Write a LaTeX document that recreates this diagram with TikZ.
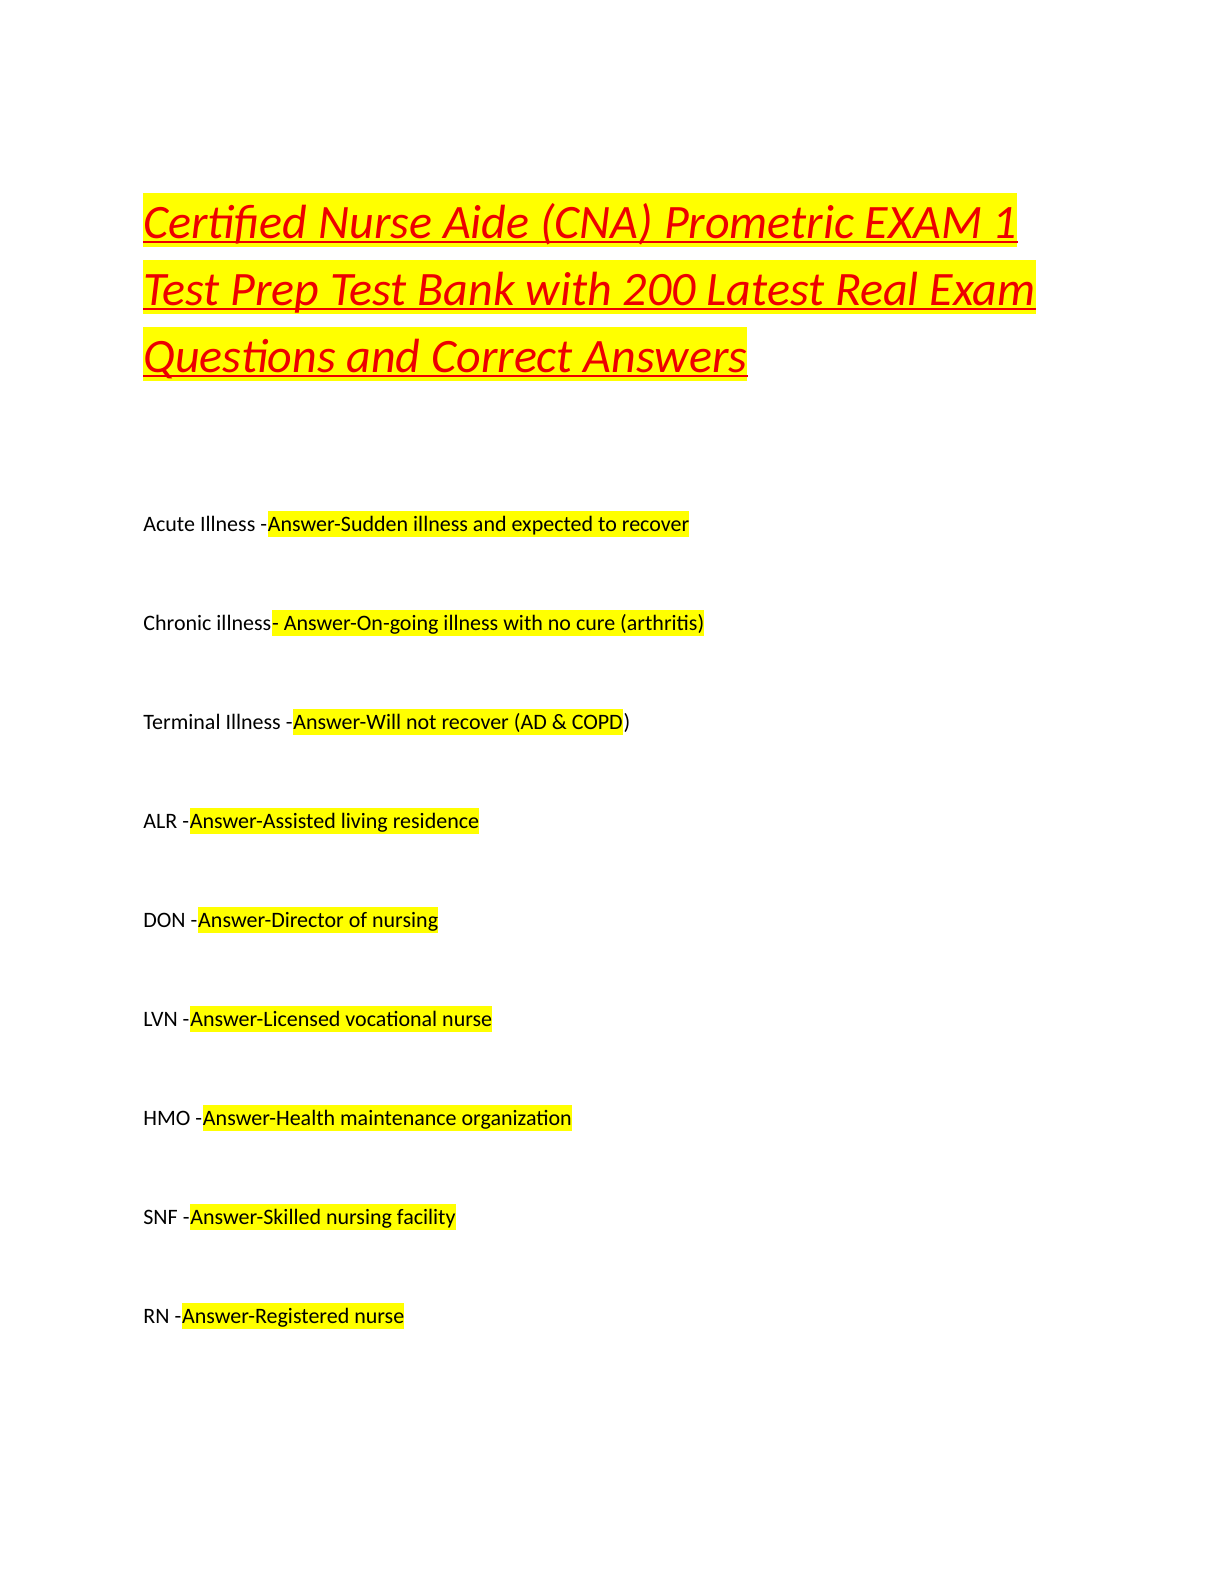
\documentclass[tikz,border=0pt]{standalone}
\usepackage{fontspec}
\setmainfont{Carlito}
\usetikzlibrary{positioning}
\definecolor{hl}{rgb}{1,1,0}
\definecolor{titlered}{rgb}{0.93,0,0}

\begin{document}
\begin{tikzpicture}[x=1pt,y=1pt]

\tikzset{titleline/.style={font=\fontsize{24}{29}\selectfont\itshape,text=titlered,fill=hl,inner sep=0pt,text height=22.5pt,text depth=4.5pt,anchor=base west},
term/.style={font=\fontsize{11}{13}\selectfont,inner sep=0pt,anchor=base west},
answer/.style={font=\fontsize{11}{13}\selectfont,fill=hl,inner sep=0pt,text height=10pt,text depth=3pt,anchor=base west}}

\useasboundingbox (0,0) rectangle (612,-792);

% Title
\node[titleline] (t1) at (71.5,-119) {Certified Nurse Aide (CNA) Prometric EXAM 1};
\node[titleline] (t2) at (71.5,-152.5) {Test Prep Test Bank with 200 Latest Real Exam};
\node[titleline] (t3) at (71.5,-186) {Questions and Correct Answers};
\foreach \t in {t1,t2,t3} \draw[titlered,line width=1pt] ([yshift=-2pt]\t.base west) -- ([yshift=-2pt]\t.base east);

% Terms and answers
\foreach \i/\k/\a/\e in {1/{Acute Illness - }/{Answer-Sudden illness and expected to recover}/{},
  2/{Chronic illness}/{ - Answer-On-going illness with no cure (arthritis)}/{},
  3/{Terminal Illness - }/{Answer-Will not recover (AD \& COPD}/{)},
  4/{ALR - }/{Answer-Assisted living residence}/{},
  5/{DON - }/{Answer-Director of nursing}/{},
  6/{LVN - }/{Answer-Licensed vocational nurse}/{},
  7/{HMO - }/{Answer-Health maintenance organization}/{},
  8/{SNF - }/{Answer-Skilled nursing facility}/{},
  9/{RN - }/{Answer-Registered nurse}/{}}{
  \node[term] (k\i) at (71.5,{-265.5-49.5*(\i-1)}) {\strut\k};
  \node[answer] (a\i) at (k\i.base east) {\a};
  \node[term] (e\i) at (a\i.base east) {\e};
}

\end{tikzpicture}
\end{document}
